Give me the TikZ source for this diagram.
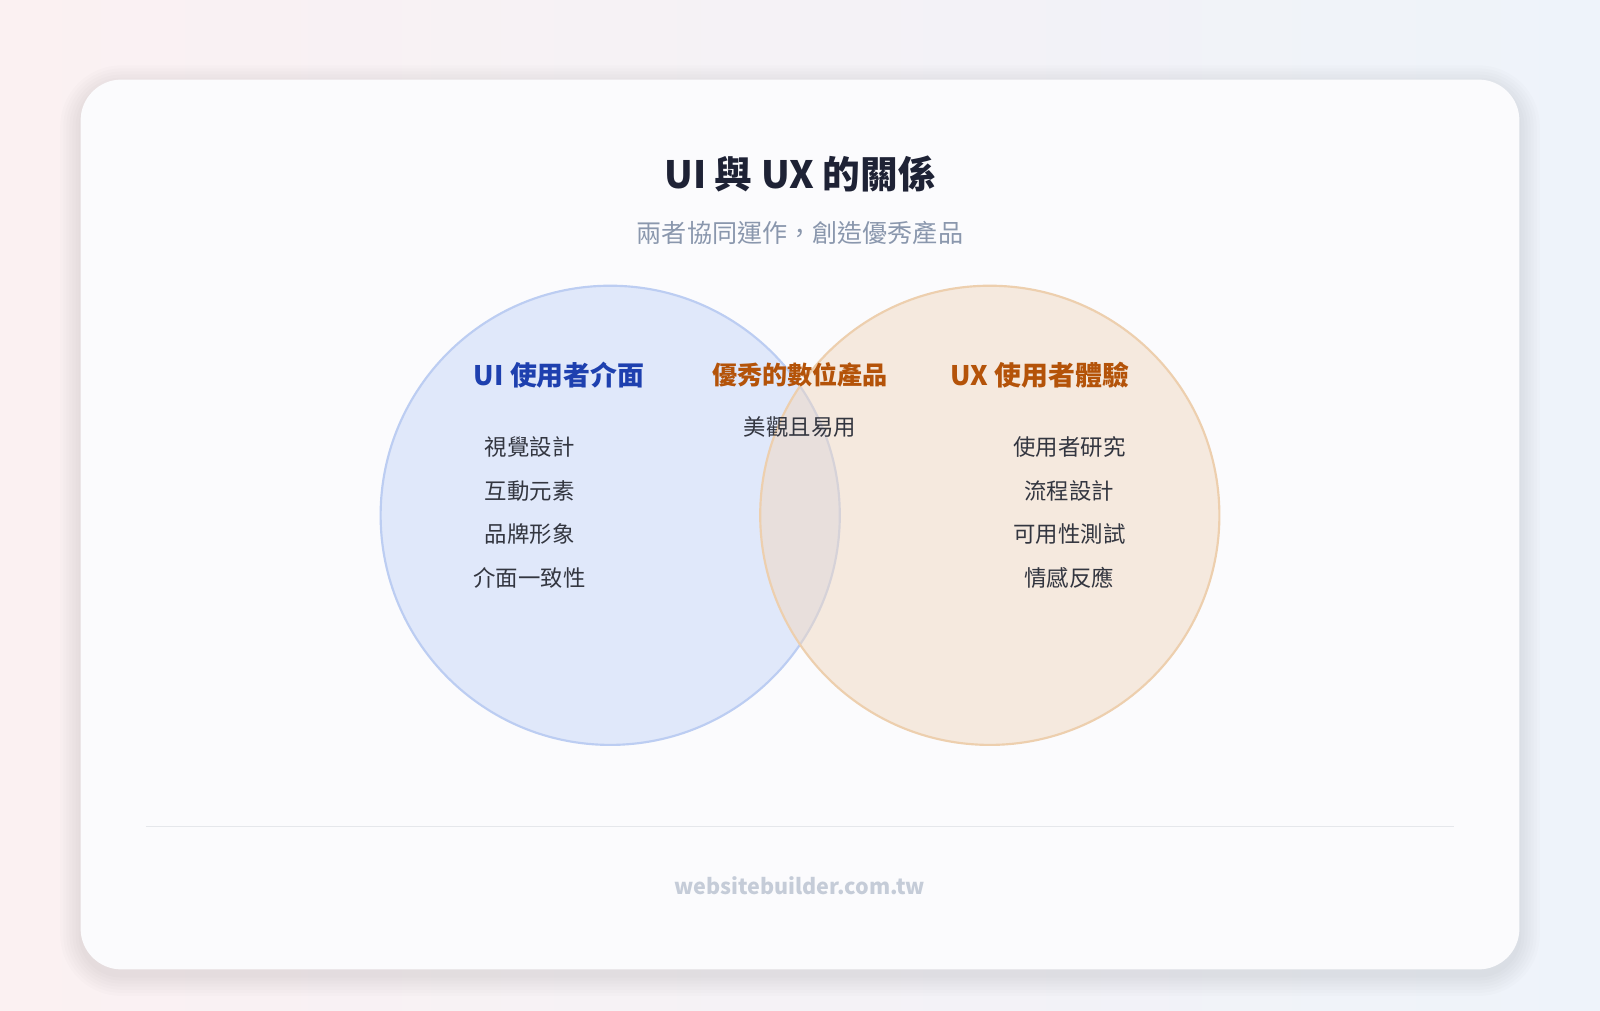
\documentclass[tikz,border=0pt]{standalone}
\usepackage{fontspec}
\setmainfont{Noto Sans CJK TC}
\definecolor{bgl}{HTML}{FBF1F2}
\definecolor{bgr}{HTML}{EEF3FA}
\definecolor{card}{HTML}{FBFBFD}
\definecolor{ttl}{HTML}{1E2235}
\definecolor{sub}{HTML}{8A97AD}
\definecolor{uib}{HTML}{1E40AF}
\definecolor{uxo}{HTML}{B45309}
\definecolor{txt}{HTML}{333640}
\definecolor{foot}{HTML}{C5CCD8}
\definecolor{uifill}{HTML}{E0E8FA}
\definecolor{uiline}{HTML}{BCCDF2}
\definecolor{uxfill}{HTML}{F0D8C0}
\definecolor{uxline}{HTML}{EDCFAE}
\begin{document}
\begin{tikzpicture}[x=0.02cm,y=-0.02cm,
  item/.style={font=\fontsize{12.5}{14}\selectfont,text=txt},
  head/.style={font=\fontsize{15}{17}\selectfont\bfseries},
  shd/.style={fill=black,fill opacity=0.012,rounded corners=#1}]
\useasboundingbox (0,0) rectangle (1568,990);
\shade[left color=bgl,right color=bgr] (0,0) rectangle (1568,990);
\foreach \d in {2,5,8,11,14,17,20}{
  \fill[shd=0.8cm+\d*0.02cm] (79-\d,78-\d+6) rectangle (1489+\d,950+\d+6);}
\node[draw=none,fill=card,rounded corners=0.8cm,minimum width=1410*0.02cm,minimum height=872*0.02cm] (card) at (784,514) {};
\node[font=\fontsize{21}{24}\selectfont\bfseries,text=ttl] (title) at (784,170) {UI 與 UX 的關係};
\node[font=\fontsize{14}{16}\selectfont,text=sub] (subt) at (784,228) {兩者協同運作，創造優秀產品};
\path[fill=uifill,draw=uiline,line width=1.2pt] (598,505) circle (225);
\path[fill=uxfill,fill opacity=0.5,draw=uxline,line width=1.2pt] (970,505) circle (225);
\node[head,text=uib] (uih) at (548,368) {UI 使用者介面};
\node[head,text=uxo,font=\fontsize{14}{16}\selectfont\bfseries] (mid) at (784,367) {優秀的數位產品};
\node[head,text=uxo] (uxh) at (1019,368) {UX 使用者體驗};
\node[item] (m1) at (784,418) {美觀且易用};
\node[item] (l1) at (519,438) {視覺設計};
\node[item] (l2) at (519,481) {互動元素};
\node[item] (l3) at (519,523) {品牌形象};
\node[item] (l4) at (519,566) {介面一致性};
\node[item] (r1) at (1048,438) {使用者研究};
\node[item] (r2) at (1048,481) {流程設計};
\node[item] (r3) at (1048,523) {可用性測試};
\node[item] (r4) at (1048,566) {情感反應};
\coordinate (la) at (143,810); \coordinate (lb) at (1425,810);
\draw[color={rgb,255:red,229;green,231;blue,235},line width=0.8pt] (la) -- (lb);
\node[font=\fontsize{12}{14}\selectfont\bfseries,text=foot] (ft) at (784,868) {websitebuilder.com.tw};
\end{tikzpicture}
\end{document}
